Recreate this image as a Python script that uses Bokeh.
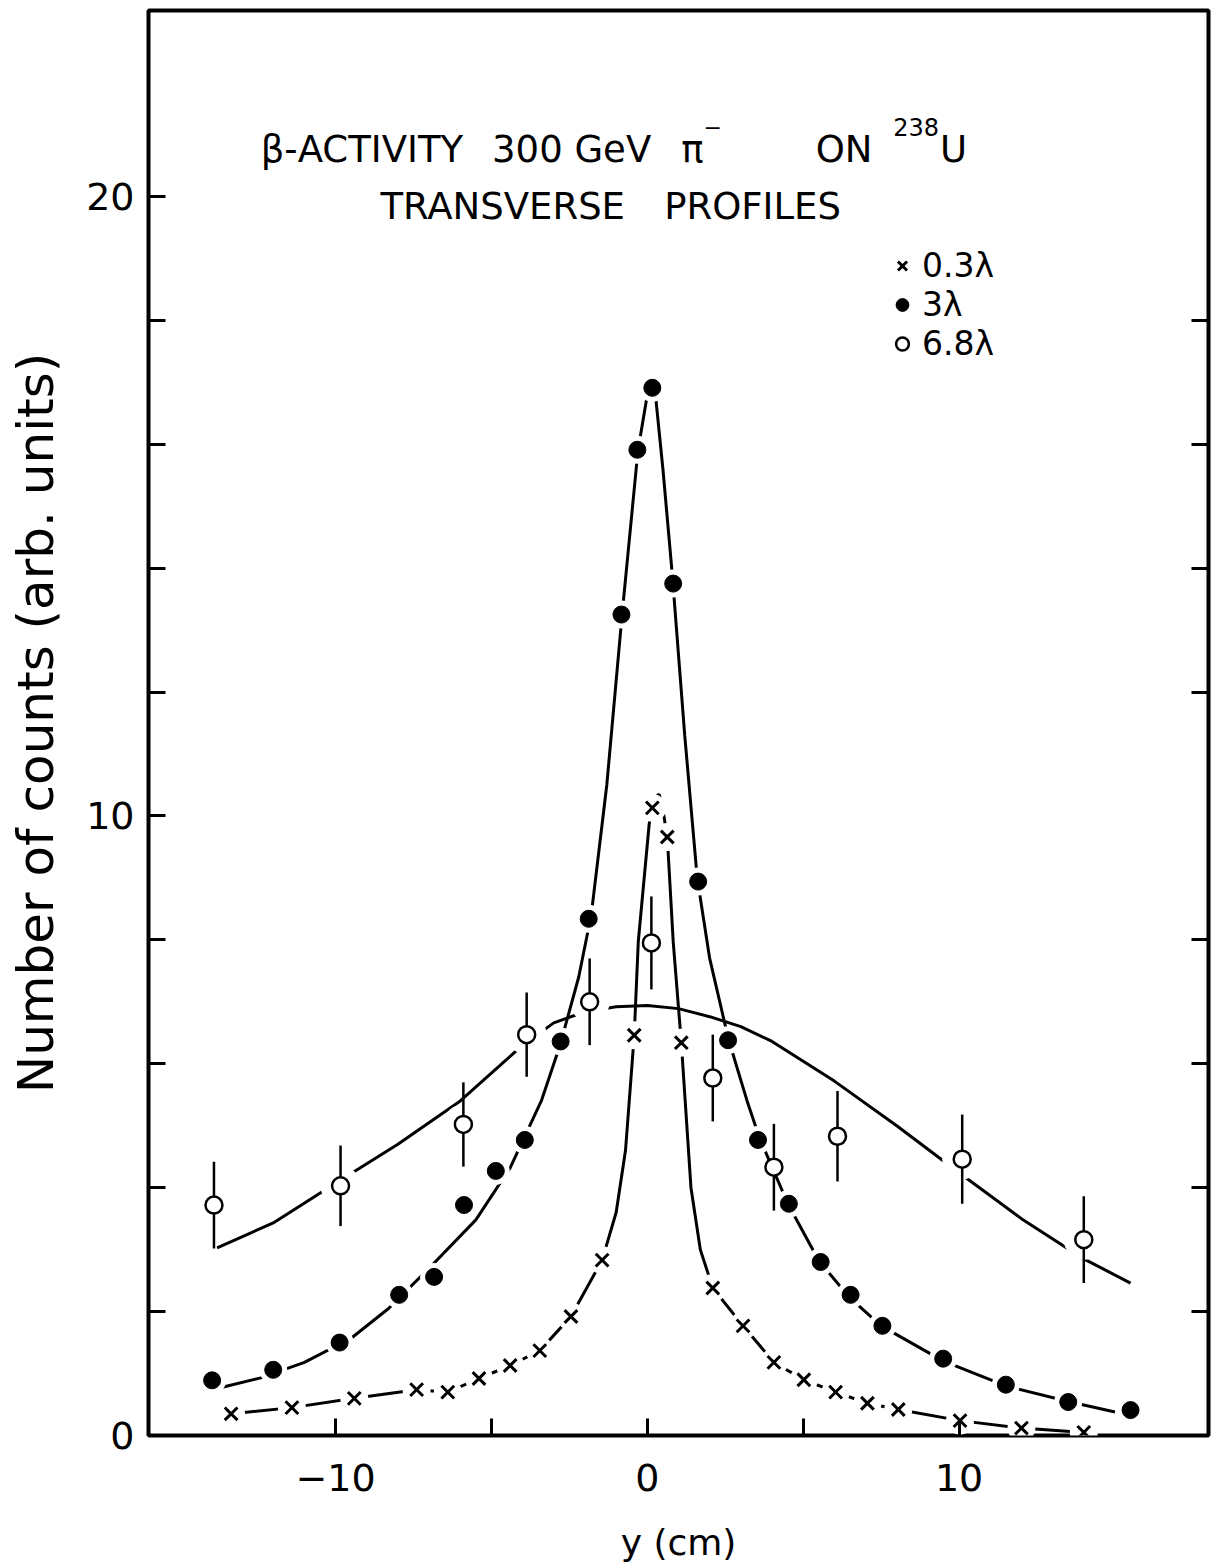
from bokeh.plotting import figure
from bokeh.models import FixedTicker, LinearAxis, Range1d, Label, Legend, LegendItem
from bokeh.embed import file_html
from bokeh.resources import INLINE

FONT = "DejaVu Sans"

# ---- data: 0.3 lambda (crosses) ----
x_03 = [-13.35, -11.4, -9.4, -7.4, -6.4, -5.4, -4.4, -3.45, -2.45, -1.45, -0.42,
        0.16, 0.64, 1.09, 2.1, 3.07, 4.06, 5.02, 6.04, 7.06, 8.05, 10.03, 12.0, 14.0]
y_03 = [0.35, 0.45, 0.60, 0.74, 0.70, 0.92, 1.13, 1.37, 1.92, 2.83, 6.46,
        10.13, 9.66, 6.34, 2.38, 1.77, 1.18, 0.90, 0.70, 0.52, 0.42, 0.24, 0.12, 0.05]
# fitted curve for 0.3 lambda
cx_03 = [-13.35, -11.4, -9.4, -7.4, -6.4, -5.4, -4.4, -3.45, -2.45, -1.45, -1.0, -0.7,
         -0.42, -0.29, 0.06, 0.22, 0.38, 0.5, 0.64, 0.83, 1.09, 1.4, 1.7, 2.1, 3.07,
         4.06, 5.02, 6.04, 7.06, 8.05, 10.03, 12.0, 14.0]
cy_03 = [0.35, 0.45, 0.60, 0.74, 0.70, 0.92, 1.13, 1.37, 1.92, 2.83, 3.6, 4.6,
         6.46, 7.97, 9.87, 10.3, 10.35, 10.1, 9.66, 7.97, 6.34, 4.0, 3.0, 2.38, 1.77,
         1.18, 0.90, 0.70, 0.52, 0.42, 0.24, 0.12, 0.05]

# ---- data: 3 lambda (filled circles) ----
x_3 = [-13.96, -12.0, -9.87, -7.96, -6.84, -5.88, -4.86, -3.93, -2.78, -1.88, -0.83,
       -0.32, 0.16, 0.83, 1.63, 2.59, 3.55, 4.54, 5.56, 6.52, 7.54, 9.49, 11.5, 13.5, 15.5]
y_3 = [0.89, 1.06, 1.50, 2.27, 2.56, 3.72, 4.27, 4.77, 6.36, 8.34, 13.25,
       15.91, 16.91, 13.75, 8.94, 6.38, 4.77, 3.74, 2.80, 2.27, 1.77, 1.24, 0.82, 0.54, 0.41]
cx_3 = [-13.7, -12.4, -11.0, -9.5, -8.3, -7.0, -5.5, -4.4, -3.4, -2.8, -2.2, -1.8, -1.3,
        -0.8, -0.3, 0.0, 0.2, 0.5, 0.8, 1.2, 1.6, 2.0, 2.6, 3.2, 3.6, 4.5, 5.5, 6.5, 7.5,
        9.5, 11.5, 13.5, 15.0]
cy_3 = [0.77, 0.93, 1.18, 1.57, 2.05, 2.7, 3.48, 4.32, 5.4, 6.3, 7.4, 8.4, 10.5,
        13.3, 15.9, 16.8, 17.1, 15.6, 13.9, 11.3, 9.0, 7.7, 6.4, 5.4, 4.8, 3.75, 2.82, 2.22, 1.77,
        1.2, 0.8, 0.55, 0.38]

# ---- data: 6.8 lambda (open circles with error bars) ----
x_68 = [-13.9, -9.84, -5.9, -3.87, -1.85, 0.13, 2.1, 4.06, 6.1, 10.1, 14.0]
y_68 = [3.72, 4.03, 5.02, 6.47, 7.0, 7.95, 5.77, 4.33, 4.83, 4.46, 3.16]
err_68 = [0.70, 0.65, 0.68, 0.68, 0.70, 0.75, 0.70, 0.70, 0.73, 0.72, 0.70]
cx_68 = [-13.8, -12.0, -10.0, -8.0, -6.0, -4.0, -3.0, -2.0, -1.0, 0.0, 1.0, 2.0, 3.0,
         4.0, 6.0, 8.0, 10.0, 12.0, 14.0, 15.5]
cy_68 = [3.03, 3.43, 4.07, 4.70, 5.40, 6.30, 6.66, 6.84, 6.92, 6.94, 6.89, 6.76, 6.6,
         6.36, 5.72, 5.0, 4.24, 3.5, 2.85, 2.46]

labels = ["0.3λ", "3λ", "6.8λ"]
y_major = [0, 10, 20]
y_minor = [2, 4, 6, 8, 12, 14, 16, 18]
x_major = [-10, 0, 10]
x_minor = [-5, 5]

p = figure(width=1216, height=1566, x_range=Range1d(-16, 18), y_range=Range1d(0, 23),
           output_backend="svg", toolbar_location=None,
           min_border_left=148, min_border_right=8, min_border_top=10, min_border_bottom=131)
p.background_fill_color = "white"
p.border_fill_color = "white"
p.xgrid.visible = False
p.ygrid.visible = False
p.outline_line_color = "black"
p.outline_line_width = 4

# axes
xax = p.xaxis[0]
yax = p.yaxis[0]
xax.ticker = FixedTicker(ticks=x_major, minor_ticks=x_minor)
yax.ticker = FixedTicker(ticks=y_major, minor_ticks=y_minor)
right = LinearAxis(ticker=FixedTicker(ticks=[], minor_ticks=y_minor),
                   major_label_standoff=0)
p.add_layout(right, "right")

for ax in [xax, yax, right]:
    ax.axis_line_color = None
    ax.major_tick_in = 17
    ax.major_tick_out = 0
    ax.minor_tick_in = 17
    ax.minor_tick_out = 0
    ax.major_tick_line_width = 3
    ax.minor_tick_line_width = 3
    ax.major_tick_line_color = "black"
    ax.minor_tick_line_color = "black"
    ax.major_label_text_font = FONT
    ax.major_label_text_font_size = "38px"
    ax.major_label_text_color = "black"

xax.major_label_standoff = 28
yax.major_label_standoff = 14
xax.axis_label = "y (cm)"
yax.axis_label = "Number of counts (arb. units)"
for ax in [xax, yax]:
    ax.axis_label_text_font = FONT
    ax.axis_label_text_font_style = "normal"
    ax.axis_label_text_color = "black"
xax.axis_label_text_font_size = "36px"
xax.axis_label_standoff = 28
yax.axis_label_text_font_size = "50px"
yax.axis_label_standoff = 18

# curves, with white halos to break lines near the points
lw = 3
p.line(cx_68, cy_68, line_width=lw, line_color="black")
p.scatter(x_68, y_68, marker="circle", size=40, fill_color="white", line_color=None)
p.line(cx_3, cy_3, line_width=lw, line_color="black")
p.scatter(x_3, y_3, marker="circle", size=28, fill_color="white", line_color=None)
p.line(cx_03, cy_03, line_width=lw, line_color="black")
p.scatter(x_03, y_03, marker="circle", size=28, fill_color="white", line_color=None)

# error bars
lo_68 = [v - e for v, e in zip(y_68, err_68)]
hi_68 = [v + e for v, e in zip(y_68, err_68)]
p.segment(x0=x_68, y0=lo_68, x1=x_68, y1=hi_68, line_width=2.5, line_color="black")

# markers
r_x = p.scatter(x_03, y_03, marker="x", size=18, line_width=3, line_color="black")
r_f = p.scatter(x_3, y_3, marker="circle", size=17, fill_color="black", line_color="black")
r_o = p.scatter(x_68, y_68, marker="circle", size=17, fill_color="white",
                line_color="black", line_width=2.5)

legend = Legend(items=[LegendItem(label=labels[0], renderers=[r_x]),
                       LegendItem(label=labels[1], renderers=[r_f]),
                       LegendItem(label=labels[2], renderers=[r_o])],
                location=(738, 1072), orientation="vertical",
                glyph_width=32, glyph_height=35, label_standoff=4, spacing=0,
                padding=0, margin=0, border_line_color=None,
                background_fill_alpha=0,
                label_text_font=FONT, label_text_font_size="33px",
                label_text_color="black")
p.add_layout(legend)

# title texts
def lab(x, y, t, size="37px", baseline="alphabetic"):
    p.add_layout(Label(x=x, y=y, text=t, text_font=FONT, text_font_size=size,
                       text_color="black", text_baseline=baseline, text_align="left"))

lab(-12.40, 20.76, "β-ACTIVITY")
lab(-4.98, 20.76, "300 GeV")
lab(1.09, 20.76, "π")
lab(1.80, 21.12, "−", size="22px", baseline="middle")
lab(5.40, 20.76, "ON")
lab(7.89, 21.12, "238", size="24px")
lab(9.39, 20.76, "U")
lab(-8.56, 19.84, "TRANSVERSE")
lab(0.54, 19.84, "PROFILES")

open("out.html", "w").write(file_html(p, INLINE))
